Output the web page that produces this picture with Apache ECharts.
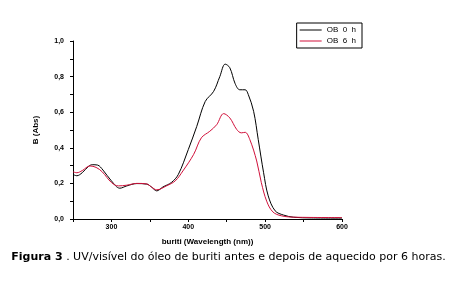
<!DOCTYPE html>
<html><head><meta charset="utf-8">
<script src="https://cdn.jsdelivr.net/npm/echarts@6/dist/echarts.min.js"></script>
<style>html,body{margin:0;padding:0;background:#fff}#c{width:457px;height:286px}</style>
</head><body><div id="c"></div>
<script>
var xTicks = [300, 400, 500, 600];
var yTicks = [0, 0.2, 0.4, 0.6, 0.8, 1.0];
var seriesNames = ['OB  0  h', 'OB  6  h'];
var wl0h = [250,255,262,270,275,282,289,300,311,320,333,346,352,359,367,378,387,400,411,422,433,441,448,454,461,467,474,478,485,491,498,504,513,524,537,560,600];
var abs0h = [0.25,0.243,0.26,0.295,0.305,0.303,0.275,0.214,0.173,0.186,0.199,0.196,0.18,0.158,0.18,0.205,0.25,0.39,0.52,0.66,0.717,0.80,0.87,0.85,0.76,0.726,0.726,0.70,0.605,0.447,0.26,0.13,0.046,0.022,0.01,0.006,0.005];
var wl6h = [250,255,262,272,280,288,300,309,320,333,346,352,359,372,383,393,407,417,428,437,446,454,463,469,474,480,489,495,502,510,521,540,600];
var abs6h = [0.265,0.26,0.272,0.298,0.29,0.265,0.205,0.186,0.19,0.2,0.197,0.18,0.164,0.187,0.214,0.27,0.363,0.456,0.493,0.53,0.592,0.568,0.503,0.484,0.487,0.447,0.326,0.205,0.10,0.04,0.018,0.01,0.008];
var xTitle = 'buriti (Wavelength (nm))';
var yTitle = 'B (Abs)';
var captionBold = 'Figura 3';
var captionRest = ' . UV/visível do óleo de buriti antes e depois de aquecido por 6 horas.';

function pairs(xs, ys){ return xs.map(function(x,i){ return [x, ys[i]]; }); }

var chart = echarts.init(document.getElementById('c'), null, {renderer:'canvas'});
chart.setOption({
  animation:false,
  backgroundColor:'#fff',
  grid:{left:73, right:115, top:41, bottom:67, containLabel:false},
  legend:{
    orient:'vertical', right:95, top:23,
    data:seriesNames,
    borderColor:'#000', borderWidth:1, borderRadius:0,
    padding:[3,6,3,3], itemGap:3,
    itemWidth:22, itemHeight:8,
    textStyle:{fontSize:8, color:'#000', fontFamily:'Liberation Sans'},
    icon:'path://M0,4L22,4L22,5L0,5Z'
  },
  xAxis:{
    type:'value', min:250, max:600, interval:50,
    name:xTitle, nameLocation:'middle', nameGap:19,
    nameTextStyle:{fontSize:8, fontWeight:'bold', color:'#000', fontFamily:'Liberation Sans'},
    axisLine:{lineStyle:{color:'#000', width:1}},
    axisTick:{show:true, inside:false, length:3, lineStyle:{color:'#000'}},
    minorTick:{show:false},
    axisLabel:{margin:5, fontSize:7, fontWeight:'bold', color:'#000', fontFamily:'Liberation Sans',
      formatter:function(v){ return xTicks.indexOf(v) >= 0 ? String(v) : ''; }},
    splitLine:{show:false}
  },
  yAxis:{
    type:'value', min:0, max:1, interval:0.1,
    name:yTitle, nameLocation:'middle', nameGap:33, nameRotate:90,
    nameTextStyle:{fontSize:8, fontWeight:'bold', color:'#000', fontFamily:'Liberation Sans'},
    axisLine:{show:true, lineStyle:{color:'#000', width:1}},
    axisTick:{show:true, inside:false, length:3, lineStyle:{color:'#000'}},
    axisLabel:{margin:9, fontSize:7, fontWeight:'bold', color:'#000', fontFamily:'Liberation Sans',
      formatter:function(v){
        var r = Math.round(v*10)/10;
        for (var i=0;i<yTicks.length;i++){ if (Math.abs(yTicks[i]-r)<1e-9 && Math.abs(v-r)<1e-9 && Math.round(r*10)%2===0) return r.toFixed(1).replace('.',','); }
        return '';
      }},
    splitLine:{show:false}
  },
  series:[
    {name:seriesNames[0], type:'line', data:pairs(wl0h, abs0h), smooth:0.35, showSymbol:false,
     lineStyle:{color:'#000', width:1}, itemStyle:{color:'#000'}},
    {name:seriesNames[1], type:'line', data:pairs(wl6h, abs6h), smooth:0.35, showSymbol:false,
     lineStyle:{color:'#d0103a', width:1}, itemStyle:{color:'#d0103a'}}
  ],
  graphic:[{
    type:'text', left:'center', top:252,
    style:{
      text:'{b|'+captionBold+'}{n|'+captionRest+'}',
      rich:{
        b:{fontSize:11, fontWeight:'bold', fill:'#000', fontFamily:'DejaVu Sans'},
        n:{fontSize:11, fill:'#000', fontFamily:'DejaVu Sans'}
      }
    }
  }]
});
</script></body></html>
